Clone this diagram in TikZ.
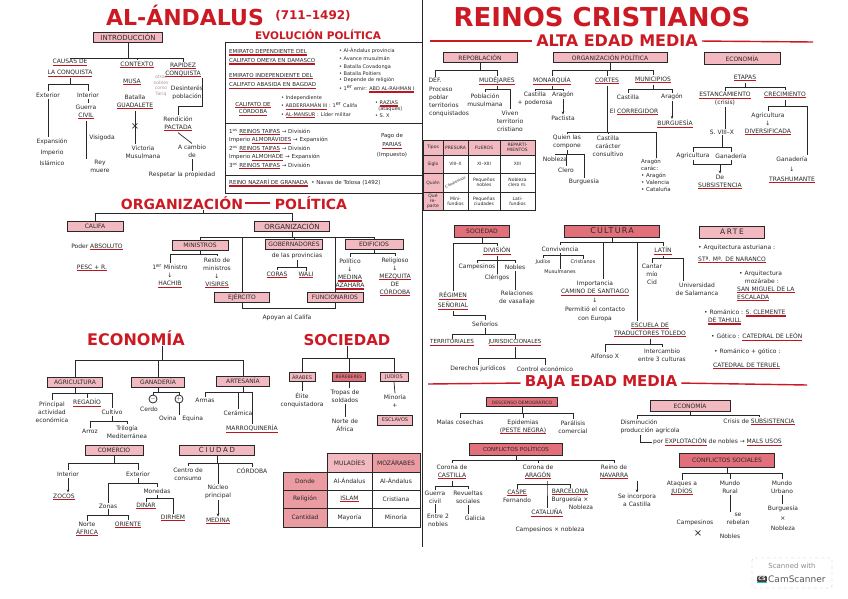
\documentclass[tikz,border=0pt]{standalone}
\usepackage{fontspec}
\setmainfont{DejaVu Sans}
\usepackage{graphicx}
\usetikzlibrary{arrows.meta, positioning, calc}
\definecolor{cRed}{RGB}{204,26,36}
\definecolor{cUl}{RGB}{190,22,32}
\definecolor{cPink}{RGB}{242,186,192}
\definecolor{cRose}{RGB}{226,112,122}
\definecolor{cInk}{RGB}{40,40,40}
\definecolor{cNote}{RGB}{170,150,156}
\definecolor{cTeal}{RGB}{40,190,170}
\newsavebox{\rlbox}
\newcommand{\rl}[1]{\sbox{\rlbox}{#1}\rlap{\textcolor{cUl}{\rule[-2.2pt]{\wd\rlbox}{1.2pt}}}\usebox{\rlbox}}
\tikzset{
  every node/.style={inner sep=1pt, align=center, text=cInk,
                     font=\fontsize{6}{8}\selectfont},
  hbox/.style={draw=cInk, fill=cPink, thick, inner xsep=3pt, inner ysep=1pt,
               minimum height=10pt},
  rbox/.style={hbox, fill=cRose},
  ttl/.style={text=cRed, inner sep=0pt, font=\bfseries\fontsize{14}{14}\selectfont},
  conn/.style={draw=cInk, line width=0.7pt},
  arr/.style={conn, -{Stealth[length=3pt, width=2.5pt]}},
  redline/.style={draw=cRed, line width=1.4pt},
  cell/.style={draw=cInk, thick, minimum width=#1, minimum height=18pt,
               inner sep=0.5pt, font=\fontsize{6}{7}\selectfont},
  cell/.default=44pt,
  tcell/.style={cell=#1, font=\fontsize{4.5}{5}\selectfont},
  tcell/.default=25pt,
  lt/.style={align=left, anchor=west}
}

\begin{document}
\begin{tikzpicture}[x=1pt, y=-1pt]
  \useasboundingbox (0,0) rectangle (848,599);
  \fill[white] (0,0) rectangle (848,599);

  % ── Titles ──
  \node[ttl, font=\bfseries\fontsize{22}{22}\selectfont] (tAnd) at (185,15) {AL-ÁNDALUS};
  \node[ttl, font=\bfseries\fontsize{12}{12}\selectfont] (tDat) at (313,16) {(711–1492)};
  \node[ttl, font=\bfseries\fontsize{26}{26}\selectfont] (tRei) at (602,17) {REINOS CRISTIANOS};
  \draw[conn] (422,0) -- (422,547);

  % ── Introducción ──
  \node[hbox, minimum width=69pt, font=\fontsize{7}{8}\selectfont] (intro) at (128,37) {INTRODUCCIÓN};
  \node (causas) at (70,68) {\rl{CAUSAS DE}\\[3pt]\rl{LA CONQUISTA}};
  \node (contexto) at (137,65) {\rl{CONTEXTO}};
  \node (rapidez) at (183,70) {\rl{RAPIDEZ}\\\rl{CONQUISTA}};
  \draw[conn] (intro.south) -- (intro.south |- 0,58) coordinate (b1);
  \foreach \n in {causas,contexto,rapidez} \draw[conn] (b1) -| (\n.north);

  \node (exterior) at (48,95) {Exterior};
  \node (interior) at (88,95) {Interior};
  \draw[conn] (causas.south) -- (causas.south |- 0,84) coordinate (b2);
  \foreach \n in {exterior,interior} \draw[conn] (b2) -| (\n.north);
  \node (expansion) at (52,152) {Expansión\\[3pt]Imperio\\[3pt]Islámico};
  \draw[conn] (exterior.south) -- (exterior.south |- expansion.north);
  \node (guerra) at (86,112) {Guerra\\\rl{CIVIL}};
  \draw[conn] (interior.south) -- (interior.south |- guerra.north);
  \node (visigoda) at (102,138) {Visigoda};
  \node (rey) at (100,166) {Rey\\muere};
  \draw[conn] (guerra.south) -- (guerra.south |- rey.north);

  \node (musa) at (132,82) {\rl{MUSA}};
  \node[text=cNote, font=\fontsize{4.5}{5.5}\selectfont] (nota) at (161,86) {otros\\nobles\\como\\Tariq};
  \node (batalla) at (135,102) {Batalla\\\rl{GUADALETE}};
  \node (victoria) at (143,152) {Victoria\\Musulmana};
  \draw[conn] (batalla.south) -- (batalla.south |- victoria.north);
  \node[font=\fontsize{10}{10}\selectfont] (cruz) at (135,127) {×};

  \node (desinteres) at (187,93) {Desinterés\\población};
  \node (rendicion) at (178,124) {Rendición\\\rl{PACTADA}};
  \draw[conn] (rapidez.south east) -- ++(0,28) -| (rendicion.north);
  \node (acambio) at (192,151) {A cambio\\de};
  \node (respetar) at (182,175) {Respetar la propiedad};
  \draw[conn] (rendicion.south) -- (acambio.north);
  \draw[conn] (acambio.south) -- (acambio.south |- respetar.north);

  % ── Evolución política ──
  \node[ttl, font=\bfseries\fontsize{10.5}{11}\selectfont] (tEvo) at (318,35) {EVOLUCIÓN POLÍTICA};
  \draw[conn, thick] (225,42) rectangle (422,193);
  \foreach \yy in {123,175} \draw[conn] (225,\yy) -- (422,\yy);
  \node[lt, font=\fontsize{5.5}{9}\selectfont] (emi1) at (228,57) {\rl{EMIRATO DEPENDIENTE DEL}\\\rl{CALIFATO OMEYA EN DAMASCO}};
  \node[lt, font=\fontsize{5}{7.7}\selectfont] (emi1r) at (338,62) {• Al-Ándalus provincia\\• Avance musulmán\\• Batalla Covadonga\\• Batalla Poitiers};
  \node[lt, font=\fontsize{5.5}{9.5}\selectfont] (emi2) at (228,81) {\rl{EMIRATO INDEPENDIENTE DEL}\\\rl{CALIFATO ABASIDA EN BAGDAD}};
  \node[lt, font=\fontsize{5}{9}\selectfont] (emi2r) at (338,85) {• Depende de religión\\• 1\textsuperscript{er} emir: \rl{ABD AL-RAHMAN I}};
  \node[font=\fontsize{5.5}{7.5}\selectfont] (cal) at (253,109) {\rl{CALIFATO DE}\\\rl{CÓRDOBA}};
  \node[lt, font=\fontsize{5}{8.5}\selectfont] (calr) at (280,107) {• Independiente\\• \rl{ABDERRAMÁN III} : 1\textsuperscript{er} Califa\\• \rl{AL-MANSUR} : Líder militar};
  \node[lt, font=\fontsize{5}{6.5}\selectfont] (calr2) at (374,109) {• \rl{RAZIAS}\\\ \ (ataques)\\• S. X};
  \node[lt, font=\fontsize{5.5}{8.5}\selectfont] (taifas) at (228,149) {1\textsuperscript{os} \rl{REINOS TAIFAS} → División\\Imperio \rl{ALMORÁVIDES} → Expansión\\2\textsuperscript{os} \rl{REINOS TAIFAS} → División\\Imperio \rl{ALMOHADE} → Expansión\\3\textsuperscript{os} \rl{REINOS TAIFAS} → División};
  \node[font=\fontsize{5.5}{9.5}\selectfont] (parias) at (392,145) {Pago de\\\rl{PARIAS}\\(Impuesto)};
  \node[lt, font=\fontsize{5.5}{7}\selectfont] (nazari) at (228,183) {\rl{REINO NAZARÍ DE GRANADA}\ \ • Navas de Tolosa (1492)};

  % ── Organización política ──
  \node[ttl] (tOrg) at (182,203) {ORGANIZACIÓN};
  \node[ttl] (tPol) at (311,203) {POLÍTICA};
  \draw[redline, shorten <=2pt, shorten >=5pt] (tOrg.east) -- (tPol.west);
  \node[hbox, minimum width=56pt] (califa) at (95,226) {CALIFA};
  \node[hbox, minimum width=75pt, font=\fontsize{7}{8}\selectfont] (orgbox) at (292,226) {ORGANIZACIÓN};
  \draw[conn] ([xshift=21pt]tOrg.south) -- ([xshift=21pt]tOrg.south |- 0,213) coordinate (b3);
  \foreach \n in {califa,orgbox} \draw[conn] (b3) -| (\n.north);
  \node (poder) at (97,247) {Poder \rl{ABSOLUTO}};
  \node (pesc) at (92,268) {\rl{PESC + R.}};

  \node[hbox, minimum width=56pt] (ministros) at (200,245) {MINISTROS};
  \node[hbox, minimum width=55pt] (gobern) at (294,244) {GOBERNADORES};
  \node[hbox, minimum width=58pt] (edificios) at (374,244) {EDIFICIOS};
  \node[hbox, minimum width=55pt] (ejercito) at (242,297) {EJÉRCITO};
  \node[hbox, minimum width=56pt] (funcion) at (335,297) {FUNCIONARIOS};
  \draw[conn] (orgbox.south) -- (orgbox.south |- 0,237) coordinate (b4);
  \foreach \n in {ministros,gobern,edificios,ejercito,funcion} \draw[conn] (b4) -| (\n.north);

  \node (hachib) at (170,276) {1\textsuperscript{er} Ministro\\↓\\\rl{HACHIB}};
  \node (visires) at (217,273) {Resto de\\ministros\\↓\\\rl{VISIRES}};
  \draw[conn] (ministros.south) -- (ministros.south |- 0,254) coordinate (b5);
  \foreach \n in {hachib,visires} \draw[conn] (b5) -| (\n.north);

  \node (provincias) at (297,256) {de las provincias};
  \node (coras) at (277,275) {\rl{CORAS}};
  \node (wali) at (306,275) {\rl{WALI}};
  \draw[conn] (provincias.south) -- (provincias.south |- 0,267) coordinate (b6);
  \foreach \n in {coras,wali} \draw[conn] (b6) -| (\n.north);

  \node (politico) at (350,274) {Político\\↓\\\rl{MEDINA}\\\rl{AZAHARA}};
  \node (religioso) at (395,277) {Religioso\\↓\\\rl{MEZQUITA}\\DE\\\rl{CÓRDOBA}};
  \draw[conn] (edificios.south) -- (edificios.south |- 0,253) coordinate (b7);
  \foreach \n in {politico,religioso} \draw[conn] (b7) -| (\n.north);

  \draw[conn] (ejercito.south) -- ++(0,6) -| (funcion.south);
  \node (apoyan) at (287,318) {Apoyan al Califa};

  % ── Economía (Al-Ándalus) ──
  \node[ttl, font=\bfseries\fontsize{16}{16}\selectfont] (tEco) at (136,338) {ECONOMÍA};
  \draw[conn] ([xshift=26pt]tEco.south) -- ([xshift=26pt]tEco.south |- 0,360) coordinate (b8);
  \node[hbox, minimum width=55pt] (agri) at (75,382) {AGRICULTURA};
  \node[hbox, minimum width=53pt] (gana) at (158,382) {GANADERÍA};
  \node[hbox, minimum width=53pt] (artes) at (243,381) {ARTESANÍA};
  \foreach \n in {agri,gana,artes} \draw[conn] (b8) -| (\n.north);

  \node (principal) at (52,412) {Principal\\actividad\\económica};
  \node (regadio) at (87,403) {\rl{REGADÍO}};
  \node (cultivo) at (112,412) {Cultivo};
  \draw[conn] (agri.south) -- (agri.south |- 0,393) coordinate (b9);
  \foreach \n in {principal,regadio,cultivo} \draw[conn] (b9) -| (\n.north);
  \node (arroz) at (90,431) {Arroz};
  \node (trilogia) at (127,432) {Trilogía\\Mediterránea};
  \draw[conn] (cultivo.south) -- (cultivo.south |- 0,421) coordinate (b10);
  \foreach \n in {arroz,trilogia} \draw[conn] (b10) -| (\n.north);

  \node[circle, draw=cInk, thick, inner sep=0pt, minimum size=8pt] (menos) at (153,399) {$-$};
  \node[circle, draw=cInk, thick, inner sep=0pt, minimum size=8pt] (mas) at (179,399) {$+$};
  \draw[conn] (gana.south) -- (gana.south |- 0,392) coordinate (b11);
  \foreach \n in {menos,mas} \draw[conn] (b11) -| (\n.north);
  \node (cerdo) at (149,409) {Cerdo};
  \node (ovina) at (181,419) {Ovina\quad Equina};
  \draw[conn] (mas.south) -- (mas.south |- ovina.north);

  \node (armas) at (205,400) {Armas};
  \node (ceramica) at (238,413) {Cerámica};
  \node (marro) at (252,429) {\rl{MARROQUINERÍA}};
  \draw[conn] (artes.south) -- (artes.south |- 0,392) coordinate (b12);
  \foreach \n in {armas,ceramica,marro} \draw[conn] (b12) -| (\n.north);

  \node[hbox, minimum width=58pt] (comercio) at (114,450) {COMERCIO};
  \node (interior2) at (68,474) {Interior};
  \node (exterior2) at (138,474) {Exterior};
  \draw[conn] (comercio.south) -- (comercio.south |- 0,463) coordinate (b13);
  \foreach \n in {interior2,exterior2} \draw[conn] (b13) -| (\n.north);
  \node (zocos) at (64,497) {\rl{ZOCOS}};
  \draw[arr] (interior2.south) -- (interior2.south |- zocos.north);
  \node (zonas) at (108,506) {Zonas};
  \node (monedas) at (157,491) {Monedas};
  \draw[conn] (exterior2.south) -- (exterior2.south |- 0,483) coordinate (b14);
  \foreach \n in {zonas,monedas} \draw[conn] (b14) -| (\n.north);
  \node (dinar) at (146,506) {\rl{DINAR}};
  \node (dirhem) at (173,518) {\rl{DIRHEM}};
  \draw[conn] (monedas.south) -- (monedas.south |- 0,498) coordinate (b15);
  \foreach \n in {dinar,dirhem} \draw[conn] (b15) -| (\n.north);
  \node (norte) at (87,529) {Norte\\\rl{ÁFRICA}};
  \node (oriente) at (128,525) {\rl{ORIENTE}};
  \draw[conn] (zonas.south) -- (zonas.south |- 0,515) coordinate (b16);
  \foreach \n in {norte,oriente} \draw[conn] (b16) -| (\n.north);

  \node[hbox, minimum width=75pt, font=\fontsize{7}{8}\selectfont\addfontfeature{LetterSpace=25}] (ciudad) at (217,450) {CIUDAD};
  \node (centro) at (188,474) {Centro de\\consumo};
  \node (nucleo) at (218,492) {Núcleo\\principal};
  \node (cordoba) at (252,471) {CÓRDOBA};
  \draw[conn] (ciudad.south) -- (ciudad.south |- 0,463) coordinate (b17);
  \foreach \n in {centro,nucleo,cordoba} \draw[conn] (b17) -| (\n.north);
  \node (medina) at (218,521) {\rl{MEDINA}};
  \draw[arr] (nucleo.south) -- (medina.north);

  % ── Sociedad (Al-Ándalus) ──
  \node[ttl, font=\bfseries\fontsize{15}{15}\selectfont] (tSoc) at (347,340) {SOCIEDAD};
  \draw[conn] (tSoc.south) -- (tSoc.south |- 0,358) coordinate (b18);
  \node[hbox, minimum width=26pt, minimum height=9pt, font=\fontsize{5}{6}\selectfont] (arabes) at (302,377) {ÁRABES};
  \node[rbox, minimum width=28pt, minimum height=9pt, font=\fontsize{4.5}{5}\selectfont] (bereb) at (349,377) {BEREBERES};
  \node[hbox, minimum width=28pt, minimum height=9pt, font=\fontsize{5}{6}\selectfont] (judios) at (394,377) {JUDÍOS};
  \foreach \n in {arabes,bereb,judios} \draw[conn] (b18) -| (\n.north);
  \node (elite) at (302,400) {Élite\\conquistadora};
  \draw[conn] (arabes.south) -- (elite.north);
  \node (tropas) at (345,396) {Tropas de\\soldados};
  \node (norteaf) at (345,425) {Norte de\\África};
  \draw[conn] (bereb.south) -- (bereb.south |- tropas.north);
  \draw[conn] (tropas.south) -- (tropas.south |- norteaf.north);
  \node (minoria) at (395,401) {Minoría\\+};
  \node[hbox, minimum width=35pt, font=\fontsize{5}{6}\selectfont] (esclavos) at (395,420) {ESCLAVOS};
  \draw[conn] (judios.south) -- (minoria.north);

  \node[cell=45pt, fill=cPink, minimum height=19pt] (hMul) at (349.5,462.5) {MULADÍES};
  \node[cell=48pt, fill=cRose!70, minimum height=19pt] (hMoz) at (396,462.5) {MOZÁRABES};
  \node[cell=44pt, fill=cRose!70] (rDon) at (305,481) {Donde};
  \node[cell=45pt] (dMul) at (349.5,481) {Al-Ándalus};
  \node[cell=48pt] (dMoz) at (396,481) {Al-Ándalus};
  \node[cell=44pt, fill=cRose!70] (rRel) at (305,499) {Religión};
  \node[cell=45pt] (relMul) at (349.5,499) {\rl{ISLAM}};
  \node[cell=48pt] (relMoz) at (396,499) {Cristiana};
  \node[cell=44pt, fill=cRose!70, minimum height=19pt] (rCan) at (305,517.5) {Cantidad};
  \node[cell=45pt, minimum height=19pt] (cMul) at (349.5,517.5) {Mayoría};
  \node[cell=48pt, minimum height=19pt] (cMoz) at (396,517.5) {Minoría};

  % ── Alta Edad Media ──
  \coordinate (aL) at (430,41);
  \coordinate (aR) at (813,42);
  \node[ttl, font=\bfseries\fontsize{16}{16}\selectfont] (tAlta) at (617,41) {ALTA EDAD MEDIA};
  \draw[redline, shorten >=4pt] (aL) -- (tAlta.west);
  \draw[redline, shorten <=4pt] (tAlta.east) -- (aR);
  \node[hbox, minimum width=74pt] (repob) at (480,57.5) {REPOBLACIÓN};
  \node[hbox, minimum width=114pt] (orgpol) at (610,57.5) {ORGANIZACIÓN POLÍTICA};
  \node[hbox, minimum width=76pt, minimum height=12pt] (econ2) at (742,58.5) {ECONOMÍA};

  \node (def) at (435,80) {DEF.};
  \node (mudejares) at (497,81) {\rl{MUDÉJARES}};
  \draw[conn] (repob.south) -- (repob.south |- 0,70) coordinate (b19);
  \foreach \n in {def,mudejares} \draw[conn] (b19) -| (\n.north);
  \node[align=left, anchor=north west] (proceso) at (428,86) {Proceso\\poblar\\territorios\\conquistados};
  \node (poblacion) at (485,100) {Población\\musulmana};
  \node (viven) at (510,121) {Viven\\territorio\\cristiano};
  \draw[conn] (mudejares.south) -- (mudejares.south |- 0,89) coordinate (b20);
  \foreach \n in {poblacion,viven} \draw[conn] (b20) -| (\n.north);

  \node (monarquia) at (552,81) {\rl{MONARQUÍA}};
  \node (cortes) at (607,81) {\rl{CORTES}};
  \node (municipios) at (653,80) {\rl{MUNICIPIOS}};
  \draw[conn] (orgpol.south) -- (orgpol.south |- 0,70) coordinate (b21);
  \foreach \n in {monarquia,cortes,municipios} \draw[conn] (b21) -| (\n.north);
  \node (castilla1) at (535,99) {Castilla\\+ poderosa};
  \node (aragon1) at (563,95) {Aragón};
  \node (pactista) at (563,118) {Pactista};
  \draw[conn] (monarquia.south) -- (monarquia.south |- 0,89) coordinate (b22);
  \foreach \n in {castilla1,aragon1} \draw[conn] (b22) -| (\n.north);
  \draw[arr] (aragon1.south) -- (pactista.north);

  \node (quien) at (567,142) {Quien las\\compone};
  \node (castilla2) at (608,146) {Castilla\\carácter\\consultivo};
  \node[align=left, font=\fontsize{5.5}{7}\selectfont] (aragon2) at (656,175) {Aragón\\carác:\\• Aragón\\• Valencia\\• Cataluña};
  \draw[conn] (cortes.south) -- (cortes.south |- 0,132) coordinate (b23);
  \foreach \n in {quien,castilla2,aragon2} \draw[conn] (b23) -| (\n.north);
  \node (nobleza) at (555,159) {Nobleza};
  \node (clero) at (566,170) {Clero};
  \node (burguesia) at (584,182) {Burguesía};
  \draw[conn] (quien.south) -- (quien.south |- 0,154) coordinate (b24);
  \foreach \n in {nobleza,clero,burguesia} \draw[conn] (b24) -| (\n.north);

  \node (castilla3) at (628,97) {Castilla};
  \node (corregidor) at (634,112) {El \rl{CORREGIDOR}};
  \node (aragon3) at (672,97) {Aragón};
  \node (burguesia2) at (675,124) {\rl{BURGUESÍA}};
  \draw[conn] (municipios.south) -- (municipios.south |- 0,89) coordinate (b25);
  \foreach \n in {castilla3,aragon3} \draw[conn] (b25) -| (\n.north);
  \draw[arr] (aragon3.south) -- (aragon3.south |- burguesia2.north);

  \node (etapas) at (745,78) {\rl{ETAPAS}};
  \node (estanc) at (725,99) {\rl{ESTANCAMIENTO}\\(crisis)};
  \node (crec) at (785,95) {\rl{CRECIMIENTO}};
  \draw[conn] (etapas.south) -- (etapas.south |- 0,87) coordinate (b26);
  \foreach \n in {estanc,crec} \draw[conn] (b26) -| (\n.north);
  \node (siglos) at (722,132) {S. VIII–X};
  \draw[conn] (estanc.south) -- (estanc.south |- siglos.north);
  \node (agri2) at (693,156) {Agricultura};
  \node (gana2) at (731,156) {Ganadería};
  \draw[conn] (siglos.south) -- (siglos.south |- 0,147) coordinate (b27);
  \foreach \n in {agri2,gana2} \draw[conn] (b27) -| (\n.north);
  \node (subs) at (720,182) {De\\\rl{SUBSISTENCIA}};
  \draw[conn] (agri2.south) -- ++(0,4) coordinate (c1) -| (gana2.south);
  \draw[arr] (c1 -| subs.north) -- (subs.north);
  \node (agri3) at (768,124) {Agricultura\\↓\\\rl{DIVERSIFICADA}};
  \node (gana3) at (792,170) {Ganadería\\[2pt]↓\\[2pt]\rl{TRASHUMANTE}};
  \draw[conn] (crec.south) -- (crec.south |- 0,106) coordinate (b28);
  \draw[conn] (b28) -| (agri3.north);
  \draw[conn] (b28) -| ([xshift=15pt]gana3.north);

  % ── Repoblación table ──
  \node[tcell=20pt, fill=cPink, minimum height=15pt] (rTip) at (433,147.5) {Tipos};
  \node[tcell=25pt, fill=cPink, minimum height=15pt] (rPre) at (455.5,147.5) {PRESURA};
  \node[tcell=32pt, fill=cPink, minimum height=15pt] (rFue) at (484,147.5) {FUEROS};
  \node[tcell=35pt, fill=cPink, minimum height=15pt] (rRep) at (517.5,147.5) {REPARTI-\\MIENTOS};
  \node[tcell=20pt, fill=cPink] (rSig) at (433,164) {Siglo};
  \node[tcell=25pt] (sPre) at (455.5,164) {VIII–X};
  \node[tcell=32pt] (sFue) at (484,164) {XI–XIII};
  \node[tcell=35pt] (sRep) at (517.5,164) {XIII};
  \node[tcell=20pt, fill=cPink, minimum height=19pt] (rQui) at (433,182.5) {Quién};
  \node[tcell=25pt, minimum height=19pt, inner sep=0pt] (qPre) at (455.5,182.5) {\rotatebox{25}{\fontsize{3.6}{4}\selectfont Campesinos}};
  \node[tcell=32pt, minimum height=19pt] (qFue) at (484,182.5) {Pequeños\\nobles};
  \node[tcell=35pt, minimum height=19pt] (qRep) at (517.5,182.5) {Nobleza\\clero m.};
  \node[tcell=20pt, fill=cPink] (rQue) at (433,201) {Qué\\re-\\parte};
  \node[tcell=25pt] (tPre) at (455.5,201) {Mini-\\fundios};
  \node[tcell=32pt] (tFue) at (484,201) {Pequeñas\\ciudades};
  \node[tcell=35pt] (tRep) at (517.5,201) {Lati-\\fundios};

  % ── Sociedad (reinos) ──
  \node[rbox, minimum width=55pt, minimum height=12pt] (soc2) at (482,231) {SOCIEDAD};
  \node (regimen) at (453,301) {\rl{RÉGIMEN}\\[2pt]\rl{SEÑORIAL}};
  \node (division) at (497,251) {\rl{DIVISIÓN}};
  \draw[conn] (soc2.south) -- (soc2.south |- 0,243) coordinate (b29);
  \foreach \n in {regimen,division} \draw[conn] (b29) -| (\n.north);
  \node (campesinos) at (477,267) {Campesinos};
  \node (clerigos) at (497,278) {Clérigos};
  \node (nobles) at (515,267) {Nobles};
  \draw[conn] (division.south) -- (division.south |- 0,260) coordinate (b30);
  \foreach \n in {campesinos,clerigos,nobles} \draw[conn] (b30) -| (\n.north);
  \node (relaciones) at (517,298) {Relaciones\\de vasallaje};
  \draw[conn] (nobles.south) -- (nobles.south |- relaciones.north);
  \node (senorios) at (485,324) {Señoríos};
  \draw[conn] (regimen.south) -- ++(0,4) -| (senorios.north);
  \node[font=\fontsize{5.6}{7}\selectfont] (territ) at (452,343) {\rl{TERRITORIALES}};
  \node[font=\fontsize{5.6}{7}\selectfont] (jurisd) at (515,343) {\rl{JURISDICCIONALES}};
  \draw[conn] (senorios.south) -- (senorios.south |- 0,334) coordinate (b31);
  \foreach \n in {territ,jurisd} \draw[conn] (b31) -| (\n.north);
  \node (derechos) at (478,369) {Derechos jurídicos};
  \node (control) at (545,369) {Control económico};
  \draw[conn] (jurisd.south) -- (jurisd.south |- 0,358) coordinate (b32);
  \foreach \n in {derechos,control} \draw[conn] (b32) -| (\n.north);

  % ── Cultura ──
  \node[rbox, minimum width=95pt, minimum height=12pt, font=\fontsize{8}{9}\selectfont\addfontfeature{LetterSpace=15}] (cultura) at (612,231) {CULTURA};
  \node (conviv) at (560,249) {Convivencia};
  \node[font=\fontsize{6}{8.7}\selectfont] (camino) at (595,301) {Importancia\\\rl{CAMINO DE SANTIAGO}\\↓\\Permitió el contacto\\con Europa};
  \node (latin) at (663,251) {\rl{LATÍN}};
  \node (escuela) at (650,330) {\rl{ESCUELA DE}\\\rl{TRADUCTORES TOLEDO}};
  \draw[conn] (cultura.south) -- (cultura.south |- 0,242) coordinate (b33);
  \draw[conn] (b33) -| (conviv.north);
  \draw[conn] (b33) -| ([xshift=8pt]camino.north);
  \draw[conn] (b33) -| (latin.north);
  \draw[conn] (b33) -| ([xshift=-13pt]escuela.north);
  \node[font=\fontsize{5}{6}\selectfont] (judios2) at (543,262) {Judíos};
  \node[font=\fontsize{5}{6}\selectfont] (cristianos) at (583,262) {Cristianos};
  \node[font=\fontsize{5}{6}\selectfont] (musulmanes) at (560,272) {Musulmanes};
  \draw[conn] (conviv.south) -- (conviv.south |- 0,255) coordinate (b34);
  \foreach \n in {judios2,cristianos,musulmanes} \draw[conn] (b34) -| (\n.north);
  \node (cantar) at (652,274) {Cantar\\mío\\Cid};
  \node (univ) at (697,289) {Universidad\\de Salamanca};
  \draw[conn] (latin.south) -- (latin.south |- 0,258) coordinate (b35);
  \draw[conn] (b35) -| (cantar.north);
  \draw[conn] (b35) -| ([xshift=-14pt]univ.north);
  \node (alfonso) at (605,356) {Alfonso X};
  \node (intercambio) at (662,355) {Intercambio\\entre 3 culturas};
  \draw[conn] (escuela.south) -- (escuela.south |- 0,344) coordinate (b36);
  \foreach \n in {alfonso,intercambio} \draw[conn] (b36) -| (\n.north);

  % ── Arte ──
  \node[hbox, minimum width=65pt, minimum height=12pt, font=\fontsize{7.5}{8}\selectfont\addfontfeature{LetterSpace=20}] (arte) at (732,232) {ARTE};
  \node[lt] (ar1) at (697,248) {• Arquitectura asturiana :};
  \node[lt] (ar2) at (697,260) {\rl{STª. Mª. DE NARANCO}};
  \node[lt] (ar3) at (738,277) {• Arquitectura\\\ \ \ mozárabe :};
  \node[lt] (ar4) at (736,294) {\rl{SAN MIGUEL DE LA}\\\rl{ESCALADA}};
  \node[lt] (ar5) at (703,317) {• Románico : \rl{S. CLEMENTE}\\\ \ \rl{DE TAHULL}};
  \node[lt] (ar6) at (710,337) {• Gótico : \rl{CATEDRAL DE LEÓN}};
  \node[lt] (ar7) at (713,352) {• Románico + gótico :};
  \node[lt] (ar8) at (712,366) {\rl{CATEDRAL DE TERUEL}};

  % ── Baja Edad Media ──
  \coordinate (bL) at (428,384);
  \coordinate (bR) at (807,385);
  \node[ttl, font=\bfseries\fontsize{15}{15}\selectfont] (tBaja) at (601,383) {BAJA EDAD MEDIA};
  \draw[redline, shorten >=4pt] (bL) -- (tBaja.west);
  \draw[redline, shorten <=4pt] (tBaja.east) -- (bR);

  \node[rbox, minimum width=71pt, minimum height=9pt, font=\fontsize{4.5}{5}\selectfont] (descenso) at (522,402) {DESCENSO DEMOGRÁFICO};
  \node (malas) at (460,422) {Malas cosechas};
  \node (epidemias) at (523,427) {Epidemias\\\rl{(PESTE NEGRA)}};
  \node (paralisis) at (573,427) {Parálisis\\comercial};
  \draw[conn] (descenso.south) -- (descenso.south |- 0,413) coordinate (b37);
  \foreach \n in {malas,epidemias,paralisis} \draw[conn] (b37) -| (\n.north);

  \node[hbox, minimum width=80pt, minimum height=11pt] (econ3) at (690,406) {ECONOMÍA};
  \node[align=left] (dismin) at (650,427) {Disminución\\producción agrícola};
  \node (crisis) at (759,422) {Crisis de \rl{SUBSISTENCIA}};
  \draw[conn] (econ3.south) -- (econ3.south |- 0,415) coordinate (b38);
  \draw[conn] (b38) -| ([xshift=-13pt]dismin.north);
  \draw[conn] (b38) -| (crisis.north);
  \node[anchor=west] (explot) at (652,442) {por \rl{EXPLOTACIÓN} de nobles → \rl{MALS USOS}};
  \draw[conn] ([xshift=-10pt]dismin.south) |- (explot.west);

  \node[rbox, minimum width=93pt, minimum height=12pt, font=\fontsize{5.5}{6}\selectfont] (confpol) at (516,449) {CONFLICTOS POLÍTICOS};
  \node (castilla4) at (452,472) {Corona de\\\rl{CASTILLA}};
  \node (aragon4) at (538,472) {Corona de\\\rl{ARAGÓN}};
  \node (navarra) at (614,472) {Reino de\\\rl{NAVARRA}};
  \draw[conn] (confpol.south) -- (confpol.south |- 0,460) coordinate (b39);
  \foreach \n in {castilla4,aragon4,navarra} \draw[conn] (b39) -| (\n.north);
  \node (incorpora) at (637,500) {Se incorpora\\a Castilla};
  \draw[arr] (incorpora.north |- navarra.south) -- (incorpora.north);

  \node (guerra3) at (435,497) {Guerra\\civil};
  \node (revueltas) at (468,497) {Revueltas\\sociales};
  \draw[conn] (castilla4.south) -- (castilla4.south |- 0,486) coordinate (b40);
  \foreach \n in {guerra3,revueltas} \draw[conn] (b40) -| (\n.north);
  \node (entre) at (438,520) {Entre 2\\nobles};
  \node (galicia) at (475,518) {Galicia};
  \draw[conn] (guerra3.south) -- (guerra3.south |- entre.north);
  \draw[conn] (revueltas.south) -- (revueltas.south |- galicia.north);

  \node (caspe) at (517,496) {\rl{CASPE}\\Fernando};
  \node (barcelona) at (570,499) {\rl{BARCELONA}\\Burguesía ×\\\hspace*{22pt}Nobleza};
  \node (cataluna) at (547,513) {\rl{CATALUÑA}};
  \coordinate (b41) at (547,484);
  \draw[conn] ([xshift=9pt]aragon4.south) -- (b41) -- (b41 |- cataluna.north);
  \draw[conn] (b41) -| (caspe.north);
  \draw[conn] (b41) -| (barcelona.north);
  \node (campe3) at (550,530) {Campesinos × nobleza};

  \node[rbox, minimum width=95pt, minimum height=14pt] (confsoc) at (727,460) {CONFLICTOS SOCIALES};
  \node (judios3) at (682,488) {Ataques a\\\rl{JUDÍOS}};
  \node (rural) at (730,487) {Mundo\\Rural};
  \node (urbano) at (782,487) {Mundo\\Urbano};
  \draw[conn] (confsoc.south) -- (confsoc.south |- 0,473) coordinate (b42);
  \foreach \n in {judios3,rural,urbano} \draw[conn] (b42) -| (\n.north);
  \node (rebelan) at (738,519) {se\\rebelan};
  \node (campe4) at (695,523) {Campesinos};
  \node[font=\fontsize{10}{10}\selectfont] (cruz4) at (698,534) {×};
  \node (nobles4) at (730,536) {Nobles};
  \draw[conn] (rural.south) -- (rural.south |- rebelan.north);
  \node (burgnob) at (783,518) {Burguesía\\[2pt]×\\[2pt]Nobleza};
  \draw[conn] (urbano.south) -- (urbano.south |- burgnob.north);

  % ── Scanner stamp ──
  \node[draw=black!25, dashed, rounded corners=2pt, minimum width=80pt, minimum height=30pt] (scan) at (792,573) {};
  \node[text=black!45, font=\fontsize{7}{8}\selectfont] (scanw) at (792,566) {Scanned with};
  \node[fill=black!75, text=white, font=\bfseries\fontsize{5}{5}\selectfont, inner sep=1.2pt, rounded corners=1pt] (cslogo) at (762,579) {CS};
  \draw[cTeal, line width=1pt] (cslogo.south west) -- (cslogo.south east);
  \node[anchor=west, text=black!65, font=\fontsize{9}{10}\selectfont] (camsc) at (767,579) {CamScanner};
\end{tikzpicture}
\end{document}
